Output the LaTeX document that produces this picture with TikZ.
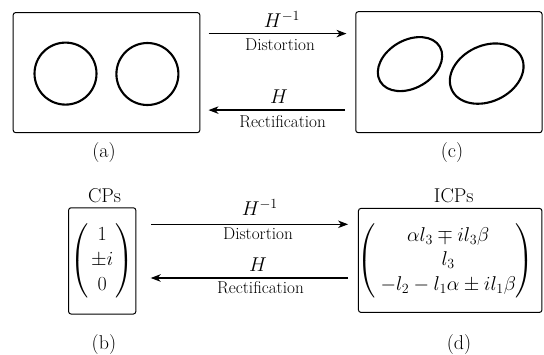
\RequirePackage{fix-cm}
\documentclass[tikz,border=0pt]{standalone}
\usepackage{amsmath}
\usetikzlibrary{arrows.meta,shapes.geometric}
\newcommand\mainsz{\fontsize{20}{24}\selectfont}
\newcommand\smallsz{\fontsize{17.2}{20}\selectfont}
\begin{document}
\begin{tikzpicture}[x=1pt,y=1pt,
  box/.style={draw, line width=1pt, rounded corners=2.5pt, inner sep=0pt},
  curve/.style={draw, line width=2.1pt, inner sep=0pt},
  arr/.style={line width=1.3pt, -{Stealth[length=10pt,width=7.5pt,inset=3pt]}},
  big/.style={font=\mainsz, inner sep=0pt},
  lbl/.style={font=\smallsz, inner sep=0pt}]
\path[use as bounding box] (0,0) rectangle (544,-354);
% top boxes
\node[box, minimum width=186.7pt, minimum height=120pt] (a) at (106.5,-72.6) {};
\node[box, minimum width=186.3pt, minimum height=121pt] (c) at (448.9,-72.2) {};
\node[curve, circle, minimum size=62pt] (a1) at (65.5,-73.6) {};
\node[curve, circle, minimum size=62pt] (a2) at (147.4,-74) {};
\node[curve, ellipse, minimum width=69pt, minimum height=48pt, rotate=30] (c1) at (410,-64.1) {};
\node[curve, ellipse, minimum width=77pt, minimum height=56pt, rotate=25] (c2) at (486.7,-73.6) {};
% top arrows
\coordinate (t1s) at (208.5,-33.6);
\coordinate (t1e) at (346.5,-33.6);
\coordinate (t2s) at (345,-110.1);
\coordinate (t2e) at (208.5,-110.1);
\draw[arr] (t1s) -- (t1e);
\draw[arr] (t2s) -- (t2e);
\node[big] (th1) at (282,-19.7) {$H^{-1}$};
\node[lbl] (td) at (280,-44.3) {Distortion};
\node[big] (th2) at (279,-97) {$H$};
\node[lbl] (tr) at (282.6,-121.9) {Rectification};
\node[big] (la) at (104,-153) {(a)};
\node[big] (lc) at (452,-153) {(c)};
% bottom
\node[big] (cps) at (104.6,-195.6) {CPs};
\node[big] (icps) at (453.8,-195.6) {ICPs};
\node[box, minimum width=67.2pt, minimum height=106.3pt, font=\mainsz] (b) at (102.2,-260.9)
  {\renewcommand\arraystretch{1.04}$\left(\mkern2mu\begin{matrix}1\\ \pm i\\ 0\end{matrix}\mkern2mu\right)$};
\node[box, minimum width=183.5pt, minimum height=104pt] (d) at (450.2,-260.4) {};
\node[big] (dm) at (446,-261)
  {\renewcommand\arraystretch{1.04}$\left(\mkern4mu\begin{matrix}\alpha l_3\mp i l_3\beta\\ l_3\\ -l_2-l_1\alpha\pm i l_1\beta\end{matrix}\right)$};
\coordinate (b1s) at (151.4,-224.3);
\coordinate (b1e) at (348.1,-224.3);
\coordinate (b2s) at (348,-278);
\coordinate (b2e) at (150.7,-278);
\draw[arr] (b1s) -- (b1e);
\draw[arr] (b2s) -- (b2e);
\node[big] (bh1) at (259.8,-207.7) {$H^{-1}$};
\node[lbl] (bd) at (258,-233.7) {Distortion};
\node[big] (bh2) at (258,-264.2) {$H$};
\node[lbl] (br) at (260.5,-288) {Rectification};
\node[big] (lb) at (103.9,-344.5) {(b)};
\node[big] (ld) at (459,-344.5) {(d)};
\end{tikzpicture}
\end{document}
